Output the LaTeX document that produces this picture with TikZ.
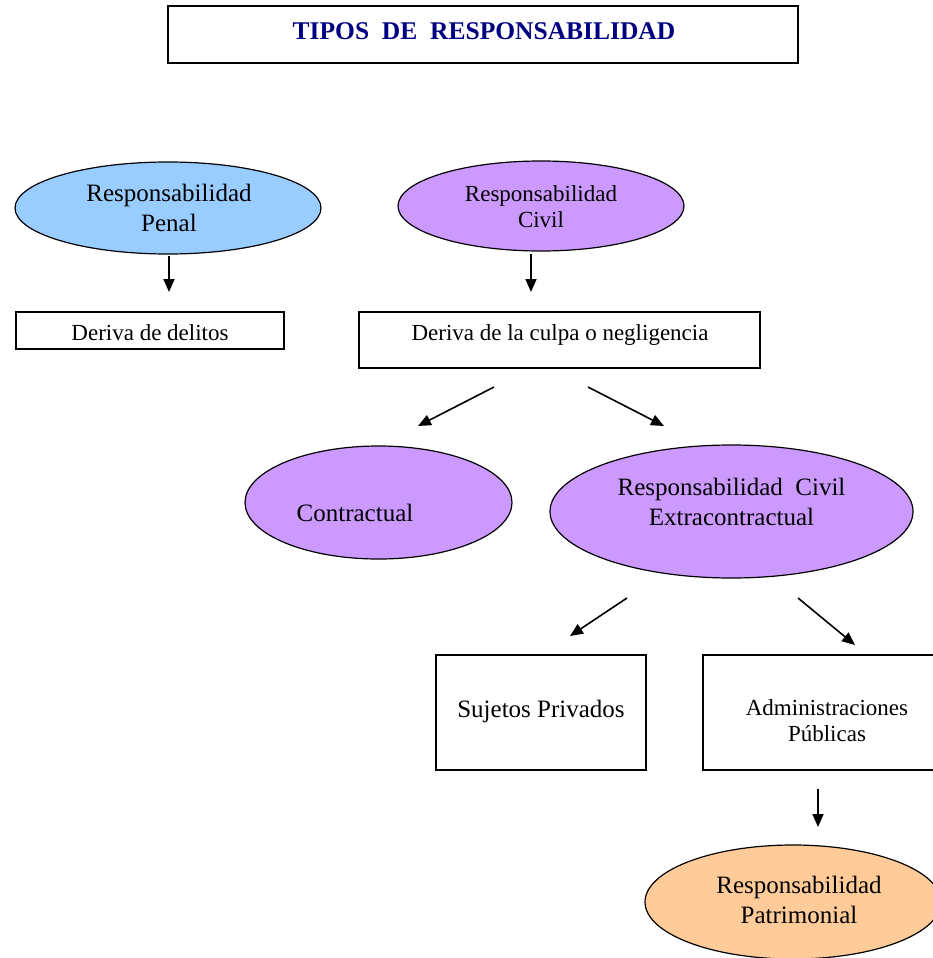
\documentclass[tikz,border=0pt]{standalone}
\usepackage{fontspec}
\setmainfont{Liberation Serif}
\usetikzlibrary{arrows.meta,shapes.geometric}
\definecolor{navyt}{RGB}{0,0,128}
\definecolor{penalblue}{RGB}{153,204,255}
\definecolor{lilac}{RGB}{204,153,255}
\definecolor{peach}{RGB}{255,204,153}
\begin{document}
\begin{tikzpicture}[x=1pt,y=-1pt,
  box/.style={draw, line width=1.2pt, fill=white, inner sep=0pt, rectangle},
  oval/.style={ellipse, draw, line width=1.2pt, inner sep=0pt},
  arr/.style={line width=1.6pt, -{Triangle[length=13pt,width=11pt]}},
  lbl/.style={align=center, inner sep=0pt},
  big/.style={font=\fontsize{25}{30}\selectfont},
  small/.style={font=\fontsize{23}{26}\selectfont}]
\useasboundingbox (0,0) rectangle (933,958);
\clip (0,0) rectangle (933,958);
% title
\node[box, minimum width=630pt, minimum height=57pt] (title) at (483,34.5) {};
\node[lbl, font=\fontsize{25.5}{28}\selectfont\bfseries, text=navyt] (titletext) at (484,31) {TIPOS\ \ DE\ \ RESPONSABILIDAD};
% first level ellipses
\node[oval, fill=penalblue, minimum width=306pt, minimum height=92pt] (penal) at (168,208) {};
\node[lbl, big] (penaltext) at (169,208) {Responsabilidad\\Penal};
\node[oval, fill=lilac, minimum width=286pt, minimum height=90pt] (civil) at (541,206) {};
\node[lbl, small] (civiltext) at (541,206.5) {Responsabilidad\\Civil};
% arrows down
\coordinate (a1s) at (169,256); \coordinate (a1e) at (169,292);
\coordinate (a2s) at (531,254); \coordinate (a2e) at (531,292);
\draw[arr] (a1s) -- (a1e);
\draw[arr] (a2s) -- (a2e);
% second level boxes
\node[box, minimum width=268pt, minimum height=37pt] (delitos) at (150,330.5) {};
\node[lbl, small] (delitostext) at (150,333) {Deriva de delitos};
\node[box, minimum width=401pt, minimum height=56pt] (culpa) at (559.5,340) {};
\node[lbl, small] (culpatext) at (560,335) {Deriva de la culpa o negligencia};
% diagonal arrows
\coordinate (b1s) at (494,387); \coordinate (b1e) at (418,426);
\coordinate (b2s) at (588,387); \coordinate (b2e) at (664,426);
\draw[arr] (b1s) -- (b1e);
\draw[arr] (b2s) -- (b2e);
% third level
\node[oval, fill=lilac, minimum width=267pt, minimum height=113pt] (contr) at (378.5,502.5) {};
\node[lbl, big] (contrtext) at (355,513) {Contractual};
\node[oval, fill=lilac, minimum width=363pt, minimum height=133pt] (extra) at (731.5,511.5) {};
\node[lbl, big] (extratext) at (731.5,502) {Responsabilidad\ \ Civil\\Extracontractual};
% diagonal arrows
\coordinate (c1s) at (627,598); \coordinate (c1e) at (570,636);
\coordinate (c2s) at (798,598); \coordinate (c2e) at (855,645);
\draw[arr] (c1s) -- (c1e);
\draw[arr] (c2s) -- (c2e);
% fourth level
\node[box, minimum width=210pt, minimum height=115pt] (suj) at (541,712.5) {};
\node[lbl, big] (sujtext) at (541,711) {Sujetos Privados};
\node[box, minimum width=248pt, minimum height=115pt] (adm) at (827,712.5) {};
\node[lbl, small] (admtext) at (827,720.5) {Administraciones\\Públicas};
% last arrow
\coordinate (d1s) at (818,789); \coordinate (d1e) at (818,827);
\draw[arr] (d1s) -- (d1e);
\node[oval, fill=peach, minimum width=296pt, minimum height=114pt] (patr) at (793,902) {};
\node[lbl, big] (patrtext) at (799,899.5) {Responsabilidad\\Patrimonial};
\end{tikzpicture}
\end{document}
